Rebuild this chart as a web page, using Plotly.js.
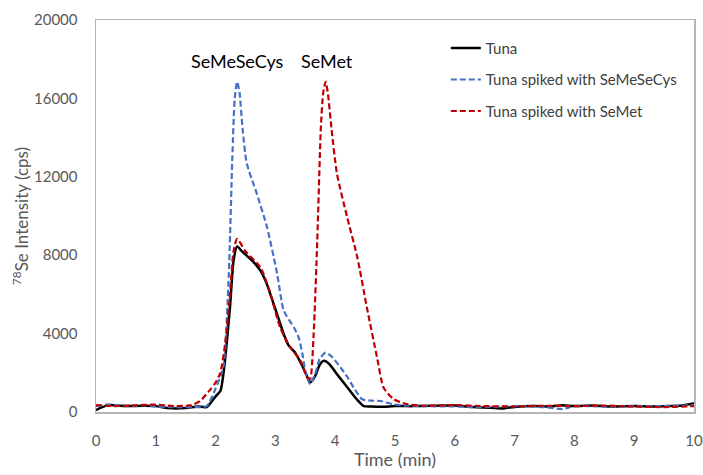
<!DOCTYPE html>
<html><head><meta charset="utf-8">
<script src="https://cdn.plot.ly/plotly-3.0.1.min.js"></script>
<style>html,body{margin:0;padding:0;background:#fff}</style>
</head><body>
<div id="chart" style="width:703px;height:475px"></div>
<script>
const seriesNames = ["Tuna", "Tuna spiked with SeMeSeCys", "Tuna spiked with SeMet"];

const tunaTime = [0,0.2,0.5,0.8,1.0,1.2,1.5,1.7,1.85,2.0,2.08,2.13,2.24,2.30,2.36,2.44,2.52,2.62,2.75,2.86,2.97,3.06,3.14,3.22,3.33,3.45,3.52,3.58,3.66,3.74,3.81,3.90,4.03,4.14,4.25,4.36,4.48,4.6,4.8,5.0,5.3,5.6,6.0,6.3,6.6,6.8,7.0,7.3,7.6,7.8,8.0,8.3,8.6,9.0,9.3,9.6,9.8,10];
const tunaValues = [100,350,300,320,300,200,200,280,250,800,1070,1930,5330,7720,8450,8200,7980,7700,7210,6500,5510,4700,3970,3400,3030,2350,1900,1500,1800,2400,2610,2450,1930,1500,1070,650,300,280,270,300,300,320,330,250,220,180,260,300,280,350,300,330,280,300,280,300,330,450];

const semesecysTime = [0,0.2,0.5,0.8,1.0,1.3,1.6,1.85,2.0,2.13,2.22,2.28,2.32,2.36,2.40,2.45,2.52,2.69,2.86,3.03,3.14,3.31,3.39,3.45,3.50,3.58,3.66,3.74,3.84,3.95,4.09,4.2,4.31,4.45,4.6,4.76,4.98,5.2,5.5,6.0,6.5,7.0,7.5,7.8,8.0,8.5,9.0,9.5,10];
const semesecysValues = [300,380,300,350,280,250,250,300,1200,2300,7000,13000,16000,16850,16300,14500,12700,11130,9430,7040,5170,4310,3800,3000,2100,1420,1900,2700,3030,2800,2270,1800,1240,650,580,560,390,330,300,280,250,300,250,150,300,280,300,300,350];

const semetTime = [0,0.3,0.6,1.0,1.3,1.6,1.74,1.9,2.0,2.08,2.16,2.24,2.30,2.36,2.5,2.75,2.9,3.08,3.25,3.42,3.53,3.58,3.64,3.70,3.76,3.80,3.84,3.88,3.94,4.03,4.20,4.37,4.53,4.70,4.81,4.98,5.2,5.5,6.0,6.5,7.0,7.5,8.0,8.5,9.0,9.5,10];
const semetValues = [350,300,330,380,300,350,560,1100,1500,2000,3500,6000,8200,8830,8200,7380,6200,4310,3290,2610,1760,1700,4000,8750,14500,16300,16850,16200,14400,12150,9940,7890,5330,2780,1240,650,400,320,350,300,280,320,300,330,280,250,300];

const peakLabels = ["SeMeSeCys", "SeMet"];
const peakLabelTimes = [2.36, 3.87];
const peakLabelY = 17900;

const xTicks = [0,1,2,3,4,5,6,7,8,9,10];
const yTicks = [0,4000,8000,12000,16000,20000];

const font = "Lato, 'Open Sans', sans-serif";

const traces = [
  {x: tunaTime, y: tunaValues, name: seriesNames[0], mode: "lines", legendgroup: "a",
   line: {color: "#000000", width: 2.5, shape: "spline", smoothing: 0.6}},
  {x: semesecysTime, y: semesecysValues, name: seriesNames[1], mode: "lines", legendgroup: "b",
   line: {color: "#4472C4", width: 2.2, dash: "6px,3px", shape: "spline", smoothing: 0.6}},
  {x: semetTime, y: semetValues, name: seriesNames[2], mode: "lines", legendgroup: "c",
   line: {color: "#C00000", width: 2.2, dash: "6px,3px", shape: "spline", smoothing: 0.6}}
];

const layout = {
  width: 703, height: 475,
  margin: {l: 96, r: 9, t: 20, b: 63},
  paper_bgcolor: "#fff", plot_bgcolor: "#fff",
  showlegend: true,
  legend: {x: 0.585, y: 0.97, xanchor: "left", yanchor: "top",
    font: {family: font, size: 15, color: "#404040"},
    traceorder: "grouped", tracegroupgap: 9, bgcolor: "rgba(0,0,0,0)"},
  xaxis: {range: [0, 10], tickvals: xTicks, ticktext: xTicks.map(String),
    showgrid: false, zeroline: false, showline: true, linecolor: "#b5b5b5", linewidth: 1.5, mirror: true,
    ticks: "", ticklabelstandoff: 14,
    tickfont: {family: font, size: 15, color: "#595959"},
    title: {text: "Time (min)", font: {family: font, size: 18, color: "#595959"}, standoff: 6}},
  yaxis: {range: [0, 20000], tickvals: yTicks, ticktext: yTicks.map(String),
    showgrid: false, zeroline: false, showline: true, linecolor: "#b5b5b5", linewidth: 1.5, mirror: true,
    ticks: "", ticklabelstandoff: 14,
    tickfont: {family: font, size: 15, color: "#595959"},
    title: {text: "<sup>78</sup>Se Intensity (cps)", font: {family: font, size: 17, color: "#595959"}}},
  annotations: peakLabels.map((t, i) => ({x: peakLabelTimes[i], y: peakLabelY, xref: "x", yref: "y",
    text: t, showarrow: false, font: {family: font, size: 18, color: "#000"}}))
};

Plotly.newPlot("chart", traces, layout, {displayModeBar: false, staticPlot: true});
</script>
</body></html>
